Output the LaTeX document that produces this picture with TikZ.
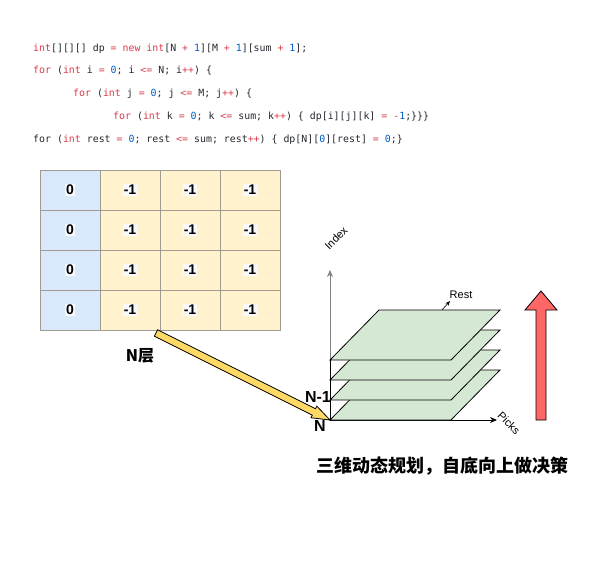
\documentclass[tikz,border=0pt]{standalone}
\usepackage{fontspec}
\setmainfont{Liberation Sans}
\newfontfamily\codefont{DejaVu Sans Mono}
\newfontfamily\cjk{Noto Sans CJK SC}
\usetikzlibrary{arrows.meta}
\usetikzlibrary{calc}

\definecolor{cellblue}{HTML}{DAE8FC}
\definecolor{cellyellow}{HTML}{FFF2CC}
\definecolor{cellline}{HTML}{A09B90}
\definecolor{labelbg}{HTML}{F8F9FA}
\definecolor{planegreen}{HTML}{D5E8D4}
\definecolor{pencilyellow}{HTML}{FFD966}
\definecolor{arrowred}{HTML}{FF6666}
\definecolor{codered}{HTML}{D73A49}
\definecolor{codeblue}{HTML}{005CC5}
\definecolor{codedark}{HTML}{24292E}

\newcommand{\kw}[1]{\textcolor{codered}{#1}}
\newcommand{\nm}[1]{\textcolor{codeblue}{#1}}

\tikzset{
 codeline/.style={anchor=west,inner sep=0pt,text=codedark,font=\codefont\fontsize{9.9}{12}\selectfont},
 cell/.style={draw=cellline,line width=0.8pt,minimum width=60pt,minimum height=40pt,inner sep=0pt},
 cellnum/.style={fill=labelbg,inner sep=1pt,font=\bfseries\fontsize{14}{16}\selectfont},
 plane/.style={draw=black,line width=0.8pt,fill=planegreen},
 axis/.style={line width=0.8pt,-{Stealth[length=7pt,width=6pt]}},
 layerlabel/.style={font=\bfseries\fontsize{16}{18}\selectfont},
}

\begin{document}
\begin{tikzpicture}[x=1pt,y=-1pt]
 \useasboundingbox (0,0) rectangle (607,564);
 % code
 \node[codeline] (code1) at (33,49) {\kw{int}[][][] dp \kw{=} \kw{new} \kw{int}[N \kw{+} \nm{1}][M \kw{+} \nm{1}][sum \kw{+} \nm{1}];};
 \node[codeline] (code2) at (33,71) {\kw{for} (\kw{int} i \kw{=} \nm{0}; i \kw{<=} N; i\kw{++}) \{};
 \node[codeline] (code3) at (73,94) {\kw{for} (\kw{int} j \kw{=} \nm{0}; j \kw{<=} M; j\kw{++}) \{};
 \node[codeline] (code4) at (113,117) {\kw{for} (\kw{int} k \kw{=} \nm{0}; k \kw{<=} sum; k\kw{++}) \{ dp[i][j][k] \kw{=} \kw{-}\nm{1};\}\}\}};
 \node[codeline] (code5) at (33,140) {for (\kw{int} rest \kw{=} \nm{0}; rest \kw{<=} sum; rest\kw{++}) \{ dp[N][\nm{0}][rest] \kw{=} \nm{0};\}};
 % table of layer N
 \foreach \r in {0,...,3}
  \foreach \c/\v/\f in {0/0/cellblue,1/-1/cellyellow,2/-1/cellyellow,3/-1/cellyellow}{
   \node[cell,fill=\f] (cell-\r-\c) at (70+60*\c,190+40*\r) {};
   \node[cellnum] at (cell-\r-\c) {\v};
  }
 \node[layerlabel] (nlayer) at (140,356) {\cjk N层};
 % axes
 \coordinate (o) at (330,420);
 \coordinate (itop) at (330,270);
 \coordinate (ptip) at (497,420);
 \coordinate (ptop) at (330,360);
 \draw[axis,draw=gray] (o) -- (itop);
 \draw[axis] (o) -- (ptip);
 % planes
 \draw[plane](330,420)--(451,420)--(500,370)--(379,370)--cycle;
 \draw[plane](330,400)--(451,400)--(500,350)--(379,350)--cycle;
 \draw[plane](330,380)--(451,380)--(500,330)--(379,330)--cycle;
 \draw[plane](330,360)--(451,360)--(500,310)--(379,310)--cycle;
 \draw[line width=0.8pt] (o) -- (ptop);
 \coordinate (rs) at (442,310);
 \coordinate (re) at (450,301);
 \draw[line width=0.6pt,-{Stealth[length=5pt,width=4pt]}] (rs) -- (re);
 \node[font=\fontsize{11}{13}\selectfont] (rest) at (461,295) {Rest};
 \node[rotate=45,font=\fontsize{11}{13}\selectfont] (index) at (336,238) {Index};
 \node[rotate=-45,font=\fontsize{11}{13}\selectfont] (picks) at (509,423) {Picks};
 % pencil from layer to N
 \coordinate (ps) at (156,333);
 \coordinate (pb) at ($(o)!18pt!(ps)$);
 \draw[line width=0.8pt,fill=pencilyellow] ($(ps)!3.6pt!90:(o)$) -- ($(pb)!3.6pt!90:(o)$) -- ($(pb)!6.5pt!90:(o)$) -- (o)
  -- ($(pb)!6.5pt!-90:(o)$) -- ($(pb)!3.6pt!-90:(o)$) -- ($(ps)!3.6pt!-90:(o)$) -- cycle;
 \node[layerlabel] (nminus) at (318,397) {N-1};
 \node[layerlabel] (nbottom) at (320,426) {N};
 % bottom up arrow
 \draw[line width=0.8pt,fill=arrowred](536,420)--(536,310)--(525,310)--(541,291)--(557,310)--(546,310)--(546,420)--cycle;
 \node[font=\cjk\bfseries\fontsize{18}{20}\selectfont] (title) at (442,466) {三维动态规划，自底向上做决策};
\end{tikzpicture}
\end{document}
